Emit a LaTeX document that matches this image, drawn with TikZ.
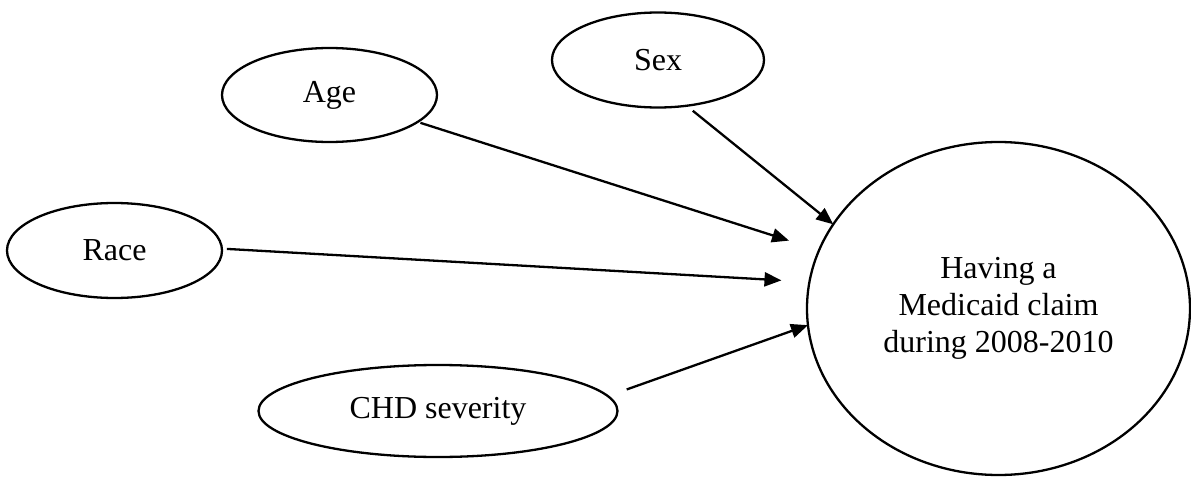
\documentclass[tikz,border=0pt]{standalone}
\usepackage{fontspec}
\setmainfont{Liberation Serif}
\usetikzlibrary{shapes.geometric,arrows.meta}
\begin{document}
\begin{tikzpicture}[x=0.5pt,y=-0.5pt,
  oval/.style={draw=black, line width=1.15pt, ellipse, inner sep=0pt, outer sep=0pt,
    font=\fontsize{16pt}{18.5pt}\selectfont, align=center},
  arr/.style={draw=black, line width=1.15pt, -{Triangle[length=8.5pt,width=7pt]}}]
\useasboundingbox (0,0) rectangle (1191,487);
\node[oval, minimum width=106pt, minimum height=47.5pt] (sex) at (658,60) {Sex};
\node[oval, minimum width=107.5pt, minimum height=47pt] (age) at (329.5,95) {Age};
\node[oval, minimum width=107.5pt, minimum height=47.5pt] (race) at (114.5,250.5) {Race};
\node[oval, minimum width=179.5pt, minimum height=46pt] (chd) at (438,411) {CHD severity};
\node[oval, minimum width=191.5pt, minimum height=166.5pt] (big) at (998.5,308.5) {Having a\\Medicaid claim\\during 2008-2010};
\draw[arr, shorten <=4pt] (sex.-58.9) -- (big.153.4);
\draw[arr, shorten <=1.5pt, shorten >=15.8pt] (age.-17.2) -- (big.162.7);
\draw[arr, shorten <=2.5pt, shorten >=14pt] (race.1.3) -- (big.172.8);
\draw[arr, shorten <=10pt] (chd.5.1) -- (big.185.5);
\end{tikzpicture}
\end{document}
